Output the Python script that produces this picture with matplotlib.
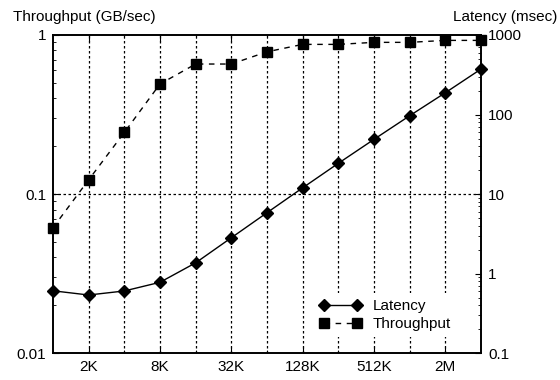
import matplotlib
matplotlib.use('Agg')
import matplotlib.pyplot as plt
from matplotlib.ticker import FixedLocator, FixedFormatter, LogLocator, NullFormatter

plt.rcParams['font.family'] = ['Liberation Sans', 'DejaVu Sans']
plt.rcParams['font.size'] = 11

# message size in KB (1K .. 4M)
sizes_kb = [1, 2, 4, 8, 16, 32, 64, 128, 256, 512, 1024, 2048, 4096]
throughput = [0.0615, 0.123, 0.244, 0.492, 0.657, 0.657, 0.784, 0.873, 0.873, 0.899, 0.899, 0.925, 0.925]
latency = [0.61, 0.54, 0.607, 0.78, 1.37, 2.83, 5.84, 12.0, 24.4, 48.8, 96.6, 188, 373]

tick_pos = [2, 8, 32, 128, 512, 2048]
tick_labels = ['2K', '8K', '32K', '128K', '512K', '2M']

fig = plt.figure(figsize=(5.6, 3.8), dpi=100)
ax = fig.add_axes([0.0946, 0.0703, 0.7643, 0.8376])
ax2 = ax.twinx()

ax.set_xscale('log', base=2)
ax.set_yscale('log')
ax2.set_yscale('log')
ax.set_xlim(1, 4096)
ax.set_ylim(0.01, 1)
ax2.set_ylim(0.1, 1000)

# vertical grid lines at every size
for x in sizes_kb[1:-1]:
    ax.axvline(x, color='black', lw=0.9, ls=(0, (2, 2)), zorder=0)
ax.axhline(0.1, color='black', lw=0.9, ls=(0, (2, 2)), zorder=0)

ax.xaxis.set_major_locator(FixedLocator(tick_pos))
ax.xaxis.set_major_formatter(FixedFormatter(tick_labels))
ax.xaxis.set_minor_locator(FixedLocator([4, 16, 64, 256, 1024]))
ax.xaxis.set_minor_formatter(NullFormatter())

ax.yaxis.set_major_locator(FixedLocator([0.01, 0.1, 1]))
ax.yaxis.set_major_formatter(FixedFormatter(['0.01', '0.1', '1']))
ax.yaxis.set_minor_locator(LogLocator(base=10, subs=range(2, 10)))
ax.yaxis.set_minor_formatter(NullFormatter())

ax2.yaxis.set_major_locator(FixedLocator([0.1, 1, 10, 100, 1000]))
ax2.yaxis.set_major_formatter(FixedFormatter(['0.1', '1', '10', '100', '1000']))
ax2.yaxis.set_minor_locator(LogLocator(base=10, subs=range(2, 10)))
ax2.yaxis.set_minor_formatter(NullFormatter())

ax.tick_params(which='both', direction='in', top=True, right=False, labelsize=11)
ax.tick_params(which='major', length=4, pad=5)
ax.tick_params(which='minor', length=2)
ax2.tick_params(which='both', direction='in', labelsize=11)
ax2.tick_params(which='major', length=4, pad=5)
ax2.tick_params(which='minor', length=2)

for a in (ax, ax2):
    for s in a.spines.values():
        s.set_linewidth(1.2)

lt, = ax2.plot(sizes_kb, latency, color='black', lw=1, marker='D', ms=6,
               clip_on=False, label='Latency', zorder=3)
tp, = ax.plot(sizes_kb, throughput, color='black', lw=1, ls=(0, (4, 4)), marker='s', ms=7.5,
              clip_on=False, label='Throughput', zorder=3)

leg = ax2.legend([lt, tp], ['Latency', 'Throughput'], loc='upper left',
                 bbox_to_anchor=(313 / 560, 1 - 293 / 380), bbox_transform=fig.transFigure,
                 borderaxespad=0, numpoints=2, frameon=True, fancybox=False,
                 edgecolor='none', facecolor='white', framealpha=1,
                 handlelength=2.75, handletextpad=0.75, labelspacing=0.25, fontsize=11)

fig.text(0.023, 0.975, 'Throughput (GB/sec)', ha='left', va='top', fontsize=11)
fig.text(0.995, 0.975, 'Latency (msec)', ha='right', va='top', fontsize=11)

fig.savefig('out.png', dpi=100)
